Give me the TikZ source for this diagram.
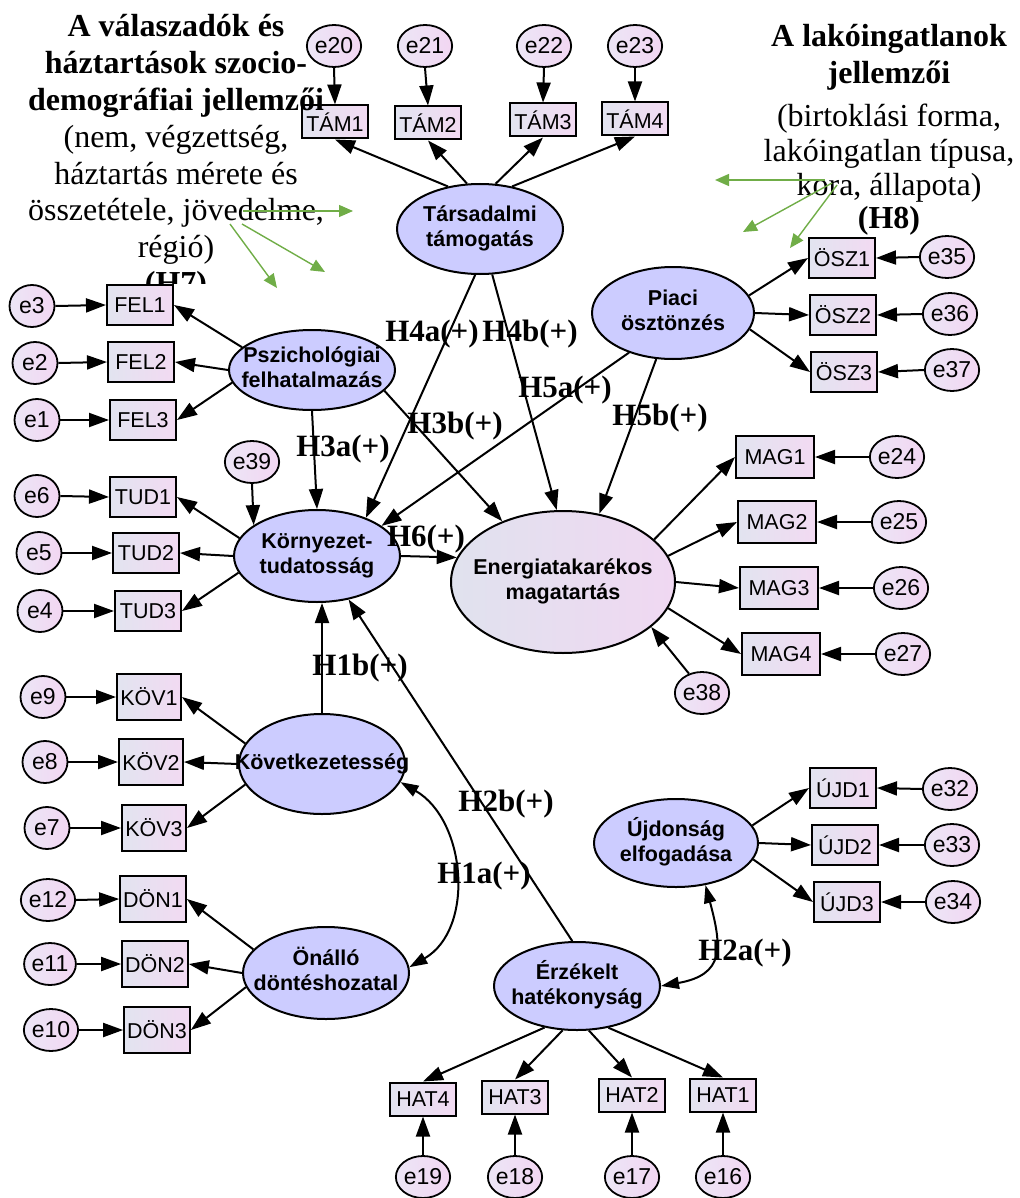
\documentclass[tikz,border=0pt]{standalone}
\usepackage{fontspec}
\setmainfont{Liberation Serif}
\newfontfamily\arialf{Liberation Sans}
\usetikzlibrary{arrows.meta,shapes.geometric}
\definecolor{latc}{RGB}{204,204,255}
\definecolor{boxL}{RGB}{226,228,240}
\definecolor{boxR}{RGB}{242,218,242}
\definecolor{errL}{RGB}{236,230,246}
\definecolor{errR}{RGB}{242,214,242}
\definecolor{eneL}{RGB}{224,226,238}
\definecolor{eneR}{RGB}{240,216,242}
\definecolor{gcol}{RGB}{112,173,71}
\newcommand{\twol}[2]{\makebox[0pt]{\begin{tabular}{@{}c@{}}#1\\#2\end{tabular}}}
\tikzset{
  latent/.style={ellipse, draw, line width=2pt, fill=latc, minimum width=166pt, minimum height=90pt, inner sep=0pt, font=\arialf\bfseries\fontsize{21.5}{25}\selectfont},
  obs/.style={rectangle, draw, line width=2pt, left color=boxL, right color=boxR, minimum width=66pt, minimum height=40pt, inner xsep=4pt, inner ysep=0pt, font=\arialf\fontsize{21.5}{25}\selectfont},
  obsk/.style={obs, minimum width=64pt, minimum height=46pt, inner xsep=3pt},
  obsm/.style={obs, minimum width=78pt, minimum height=42pt},
  obst/.style={obs, minimum height=33pt},
  err/.style={ellipse, draw, line width=1.8pt, left color=errL, right color=errR, minimum width=45pt, minimum height=42pt, inner sep=0pt, font=\arialf\fontsize{23}{25}\selectfont},
  conn/.style={line width=2pt, -{Triangle[length=20pt,width=14pt]}},
  both/.style={line width=2pt, {Triangle[length=18pt,width=12pt]}-{Triangle[length=18pt,width=12pt]}},
  hyp/.style={font=\bfseries\fontsize{31}{31}\selectfont, inner sep=0pt},
  hdb/.style={anchor=base, inner sep=0pt, font=\bfseries\fontsize{32}{36}\selectfont},
  hdr/.style={anchor=base, inner sep=0pt, font=\fontsize{32}{36}\selectfont},
  garrow/.style={draw=gcol, line width=1.4pt, -{Triangle[length=14pt,width=12pt]}}
}
\begin{document}
\begin{tikzpicture}[x=1pt,y=-1pt]
\useasboundingbox (0,0) rectangle (1019,1198);

% latent variables
\node[latent] (tam) at (480,229) {\twol{Társadalmi}{támogatás}};
\node[latent, minimum width=162pt, minimum height=92pt] (pia) at (673,313) {\twol{Piaci}{ösztönzés}};
\node[latent, minimum height=80pt] (psz) at (312,370) {\twol{Pszichológiai}{felhatalmazás}};
\node[latent, minimum height=92pt] (kor) at (317,556) {\twol{Környezet-}{tudatosság}};
\node[latent, minimum width=224pt, minimum height=142pt, fill=none, left color=eneL, right color=eneR] (ene) at (563,582) {\twol{Energiatakarékos}{magatartás}};
\node[latent, minimum height=100pt] (kov) at (322,764) {\makebox[0pt]{Következetesség}};
\node[latent, minimum height=92pt] (ona) at (326,973) {\twol{Önálló}{döntéshozatal}};
\node[latent, minimum width=164pt, minimum height=88pt] (ujd) at (676,843) {\twol{Újdonság}{elfogadása}};
\node[latent, minimum height=88pt] (erz) at (577,986) {\twol{Érzékelt}{hatékonyság}};

% observed
\node[obst] (TAM1) at (335,122) {TÁM1};
\node[obst] (TAM2) at (428,123) {TÁM2};
\node[obst] (TAM3) at (543,120) {TÁM3};
\node[obst] (TAM4) at (635,119) {TÁM4};
\node[obs] (OSZ1) at (842,258) {ÖSZ1};
\node[obs] (OSZ2) at (843,315) {ÖSZ2};
\node[obs] (OSZ3) at (844,372) {ÖSZ3};
\node[obs] (FEL1) at (140,305) {FEL1};
\node[obs] (FEL2) at (141,362) {FEL2};
\node[obs] (FEL3) at (143,420) {FEL3};
\node[obs] (TUD1) at (143,497) {TUD1};
\node[obs] (TUD2) at (146,553) {TUD2};
\node[obs] (TUD3) at (148,611) {TUD3};
\node[obsm] (MAG1) at (775,457) {MAG1};
\node[obsm] (MAG2) at (777,522) {MAG2};
\node[obsm] (MAG3) at (779,588) {MAG3};
\node[obsm] (MAG4) at (781,654) {MAG4};
\node[obsk] (KOV1) at (149,697) {KÖV1};
\node[obsk] (KOV2) at (151,762) {KÖV2};
\node[obsk] (KOV3) at (154,828) {KÖV3};
\node[obsk] (DON1) at (153,899) {DÖN1};
\node[obsk] (DON2) at (155,964) {DÖN2};
\node[obsk] (DON3) at (157,1030) {DÖN3};
\node[obs] (UJD1) at (843,788) {ÚJD1};
\node[obs] (UJD2) at (845,845) {ÚJD2};
\node[obs] (UJD3) at (847,902) {ÚJD3};
\node[obst] (HAT4) at (423,1099) {HAT4};
\node[obst] (HAT3) at (515,1097) {HAT3};
\node[obst] (HAT2) at (632,1095) {HAT2};
\node[obst] (HAT1) at (723,1095) {HAT1};

% errors
\node[err] (e20) at (334,46) {e20};
\node[err] (e21) at (425,46) {e21};
\node[err] (e22) at (544,46) {e22};
\node[err] (e23) at (635,46) {e23};
\node[err] (e35) at (947,257) {e35};
\node[err] (e36) at (950,314) {e36};
\node[err] (e37) at (952,370) {e37};
\node[err] (e3) at (32,306) {e3};
\node[err] (e2) at (35,363) {e2};
\node[err] (e1) at (37,420) {e1};
\node[err] (e39) at (252,462) {e39};
\node[err] (e6) at (37,496) {e6};
\node[err] (e5) at (39,553) {e5};
\node[err] (e4) at (40,611) {e4};
\node[err] (e24) at (897,457) {e24};
\node[err] (e25) at (899,522) {e25};
\node[err] (e26) at (901,588) {e26};
\node[err] (e27) at (903,654) {e27};
\node[err] (e38) at (702,693) {e38};
\node[err] (e9) at (43,697) {e9};
\node[err] (e8) at (45,762) {e8};
\node[err] (e7) at (47,828) {e7};
\node[err] (e12) at (48,900) {e12};
\node[err] (e11) at (50,964) {e11};
\node[err] (e10) at (51,1030) {e10};
\node[err] (e32) at (950,789) {e32};
\node[err] (e33) at (952,845) {e33};
\node[err] (e34) at (953,902) {e34};
\node[err] (e19) at (423,1177) {e19};
\node[err] (e18) at (515,1177) {e18};
\node[err] (e17) at (632,1177) {e17};
\node[err] (e16) at (723,1177) {e16};

% error arrows
\draw[conn] (e20.south) -- (TAM1.north);
\draw[conn] (e21.south) -- (TAM2.north);
\draw[conn] (e22.south) -- (TAM3.north);
\draw[conn] (e23.south) -- (TAM4.north);
\draw[conn] (e35.west) -- (OSZ1.east);
\draw[conn] (e36.west) -- (OSZ2.east);
\draw[conn] (e37.west) -- (OSZ3.east);
\draw[conn] (e3.east) -- (FEL1.west);
\draw[conn] (e2.east) -- (FEL2.west);
\draw[conn] (e1.east) -- (FEL3.west);
\draw[conn] (e6.east) -- (TUD1.west);
\draw[conn] (e5.east) -- (TUD2.west);
\draw[conn] (e4.east) -- (TUD3.west);
\draw[conn] (e24.west) -- (MAG1.east);
\draw[conn] (e25.west) -- (MAG2.east);
\draw[conn] (e26.west) -- (MAG3.east);
\draw[conn] (e27.west) -- (MAG4.east);
\draw[conn] (e9.east) -- (KOV1.west);
\draw[conn] (e8.east) -- (KOV2.west);
\draw[conn] (e7.east) -- (KOV3.west);
\draw[conn] (e12.east) -- (DON1.west);
\draw[conn] (e11.east) -- (DON2.west);
\draw[conn] (e10.east) -- (DON3.west);
\draw[conn] (e32.west) -- (UJD1.east);
\draw[conn] (e33.west) -- (UJD2.east);
\draw[conn] (e34.west) -- (UJD3.east);
\draw[conn] (e19.north) -- (HAT4.south);
\draw[conn] (e18.north) -- (HAT3.south);
\draw[conn] (e17.north) -- (HAT2.south);
\draw[conn] (e16.north) -- (HAT1.south);
\draw[conn] (e39.south) -- (kor.154);
\draw[conn] (e38.124) -- (ene.-27);

% loadings
\draw[conn] (tam.127) -- (TAM1.south);
\draw[conn] (tam.106) -- (TAM2.south);
\draw[conn] (tam.71) -- (TAM3.south);
\draw[conn] (tam.53) -- (TAM4.south);
\draw[conn] (pia.13) -- (OSZ1.west);
\draw[conn] (pia.0) -- (OSZ2.west);
\draw[conn] (pia.-12) -- (OSZ3.west);
\draw[conn] (psz.162) -- (FEL1.east);
\draw[conn] (psz.180) -- (FEL2.east);
\draw[conn] (psz.189) -- (FEL3.east);
\draw[conn] (kor.167) -- (TUD1.east);
\draw[conn] (kor.180) -- (TUD2.east);
\draw[conn] (kor.192) -- (TUD3.east);
\draw[conn] (ene.25) -- (MAG1.west);
\draw[conn] (ene.14) -- (MAG2.west);
\draw[conn] (ene.0) -- (MAG3.west);
\draw[conn] (ene.-14) -- (MAG4.west);
\draw[conn] (kov.165) -- (KOV1.east);
\draw[conn] (kov.180) -- (KOV2.east);
\draw[conn] (kov.195) -- (KOV3.east);
\draw[conn] (ona.162) -- (DON1.east);
\draw[conn] (ona.180) -- (DON2.east);
\draw[conn] (ona.190) -- (DON3.east);
\draw[conn] (ujd.13) -- (UJD1.west);
\draw[conn] (ujd.0) -- (UJD2.west);
\draw[conn] (ujd.-12) -- (UJD3.west);
\draw[conn] (erz.232) -- (HAT4.north);
\draw[conn] (erz.252) -- (HAT3.north);
\draw[conn] (erz.285) -- (HAT2.north);
\draw[conn] (erz.307) -- (HAT1.north);

% structural paths
\draw[conn] (tam.264) -- (kor.38);
\draw[conn] (tam.285) -- (ene.95);
\draw[conn] (pia.222) -- (kor.25);
\draw[conn] (pia.250) -- (ene.62);
\draw[conn] (psz.south) -- (kor.north);
\draw[conn] (psz.344) -- (ene.135);
\draw[conn] (kor.east) -- (ene.167);
\draw[conn] (kov.north) -- (kov.north |- kor.south);
\draw[conn] (erz.96) -- (kor.-54);
\draw[both] (kov.-13) to[out=-30,in=30,looseness=1.05] (ona.4);
\draw[both] (erz.east) to[out=10,in=-75,looseness=1.5] (ujd.-55);

% hypothesis labels
\node[hyp] (h4a) at (432,334) {H4a(+)};
\node[hyp] (h4b) at (530,334) {H4b(+)};
\node[hyp] (h5a) at (565,390) {H5a(+)};
\node[hyp] (h3b) at (455,426) {H3b(+)};
\node[hyp] (h5b) at (660,418) {H5b(+)};
\node[hyp] (h3a) at (343,449) {H3a(+)};
\node[hyp] (h6) at (426,539) {H6(+)};
\node[hyp] (h1b) at (360,668) {H1b(+)};
\node[hyp] (h2b) at (506,804) {H2b(+)};
\node[hyp] (h1a) at (484,876) {H1a(+)};
\node[hyp] (h2a) at (745,953) {H2a(+)};

% left header
\node[hdb] (l1) at (176,37) {A válaszadók és};
\node[hdb] (l2) at (176,74) {háztartások szocio-};
\node[hdb] (l3) at (176,111) {demográfiai jellemzői};
\node[hdr] (l4) at (176,148) {(nem, végzettség,};
\node[hdr] (l5) at (176,185) {háztartás mérete és};
\node[hdr] (l6) at (176,221) {összetétele, jövedelme,};
\node[hdr] (l7) at (176,257) {régió)};
\begin{scope}
\clip (0,0) rectangle (400,283);
\node[hdb] (l8) at (176,293) {(H7)};
\end{scope}

% right header
\node[hdb] (r1) at (889,47) {A lakóingatlanok};
\node[hdb] (r2) at (889,84) {jellemzői};
\node[hdr] (r3) at (889,127) {(birtoklási forma,};
\node[hdr] (r4) at (889,162) {lakóingatlan típusa,};
\node[hdr] (r5) at (889,196) {kora, állapota)};
\node[hdb] (r6) at (889,229) {(H8)};

% green arrows
\coordinate (ga0) at (243,211);
\coordinate (ga1) at (353,211);
\coordinate (gb0) at (230,224);
\coordinate (gb1) at (277,288);
\coordinate (gc0) at (242,224);
\coordinate (gc1) at (325,272);
\coordinate (gd0) at (825,180);
\coordinate (gd1) at (715,180);
\coordinate (ge0) at (832,183);
\coordinate (ge1) at (743,232);
\coordinate (gf0) at (837,185);
\coordinate (gf1) at (790,248);
\draw[garrow] (ga0) -- (ga1);
\draw[garrow] (gb0) -- (gb1);
\draw[garrow] (gc0) -- (gc1);
\draw[garrow] (gd0) -- (gd1);
\draw[garrow] (ge0) -- (ge1);
\draw[garrow] (gf0) -- (gf1);
\end{tikzpicture}
\end{document}
